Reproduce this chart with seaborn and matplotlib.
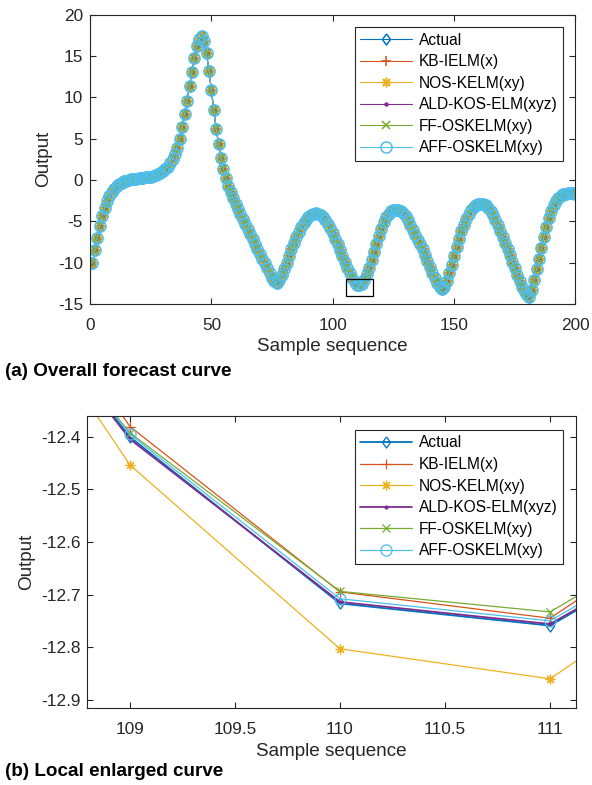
import matplotlib
matplotlib.use("Agg")
import matplotlib.pyplot as plt
from matplotlib.patches import Rectangle
import seaborn as sns

# ---------------------------------------------------------------- data
sample = list(range(1, 201))

actual = [
    -10.1, -8.5, -7.0, -5.6, -4.4, -3.4, -2.6, -1.95, -1.45, -1.05,
    -0.75, -0.5, -0.32, -0.18, -0.07, 0.02, 0.08, 0.13, 0.17, 0.2,
    0.23, 0.26, 0.3, 0.35, 0.41, 0.49, 0.59, 0.71, 0.86, 1.04,
    1.3, 1.6, 2.0, 2.5, 3.1, 3.9, 5.0, 6.4, 8.0, 9.6,
    11.3, 13.1, 14.8, 16.2, 17.1, 17.4, 16.8, 15.3, 13.2, 10.9,
    8.4, 6.2, 4.3, 2.7, 1.3, 0.2, -0.7, -1.5, -2.2, -2.9,
    -3.5, -4.1, -4.7, -5.3, -5.9, -6.5, -7.1, -7.7, -8.3, -8.9,
    -9.5, -10.1, -10.7, -11.3, -11.8, -12.2, -12.4, -12.1, -11.5, -10.8,
    -10.0, -9.2, -8.4, -7.6, -6.9, -6.3, -5.7, -5.2, -4.8, -4.5,
    -4.25, -4.1, -4.05, -4.1, -4.25, -4.5, -4.85, -5.3, -5.85, -6.45,
    -7.1, -7.8, -8.5, -9.2, -9.9, -10.6, -11.25, -11.89, -12.401, -12.717,
    -12.759, -12.53, -12.1, -11.4, -10.6, -9.7, -8.7, -7.7, -6.8, -5.9,
    -5.1, -4.5, -4.1, -3.8, -3.65, -3.6, -3.65, -3.8, -4.05, -4.4,
    -4.85, -5.4, -6.0, -6.6, -7.2, -7.8, -8.4, -9.1, -9.8, -10.5,
    -11.2, -11.8, -12.4, -12.9, -13.2, -12.9, -12.2, -11.3, -10.3, -9.2,
    -8.1, -7.1, -6.2, -5.4, -4.7, -4.1, -3.6, -3.25, -3.0, -2.88,
    -2.85, -2.9, -3.05, -3.35, -3.75, -4.25, -4.85, -5.5, -6.2, -6.9,
    -7.6, -8.35, -9.1, -9.9, -10.7, -11.5, -12.2, -12.9, -13.5, -13.95,
    -14.1, -13.3, -12.1, -10.8, -9.5, -8.2, -6.9, -5.7, -4.6, -3.7,
    -3.0, -2.5, -2.15, -1.9, -1.75, -1.65, -1.6, -1.58, -1.6, -1.65,
]

# Forecasts around the enlarged window (samples 108-112); elsewhere the
# forecasts coincide with the actual output at the scale of panel (a).
window_sample = [108, 109, 110, 111, 112]
kb_window = [-11.80, -12.381, -12.695, -12.745, -12.48]
nos_window = [-11.86, -12.454, -12.803, -12.860, -12.59]
ald_window = [-11.89, -12.405, -12.714, -12.756, -12.53]
ff_window = [-11.90, -12.393, -12.694, -12.733, -12.50]
aff_window = [-11.90, -12.396, -12.708, -12.750, -12.52]

names = ["Actual", "KB-IELM(x)", "NOS-KELM(xy)", "ALD-KOS-ELM(xyz)",
         "FF-OSKELM(xy)", "AFF-OSKELM(xy)"]


def full_forecast(window_values):
    out = list(actual)
    for s, v in zip(window_sample, window_values):
        out[s - 1] = v
    return out


i0 = window_sample[0] - 1
actual_window = actual[i0:i0 + len(window_sample)]
windows = [actual_window, kb_window, nos_window, ald_window, ff_window, aff_window]
full_series = [actual] + [full_forecast(w) for w in windows[1:]]

# ---------------------------------------------------------------- style
sns.set_style("ticks")
plt.rcParams["font.family"] = ["Liberation Sans", "DejaVu Sans"]
plt.rcParams["axes.unicode_minus"] = False

ink = "#262626"
colors = ["#0072BD", "#D95319", "#EDB120", "#7E2F8E", "#77AC30", "#4DBEEE"]
diamond = [(0, 1), (0.72, 0), (0, -1), (-0.72, 0), (0, 1)]
markers = [diamond, "+", (8, 2, 0), ".", "x", "o"]
msizes = [8.0, 7.4, 7.0, 4.2, 6.0, 8.0]
facecolors = ["none", colors[1], colors[2], colors[3], colors[4], "none"]

fig = plt.figure(figsize=(5.92, 7.85), dpi=100)
ax1 = fig.add_axes([0.1520, 0.6127, 0.8201, 0.3688])
ax2 = fig.add_axes([0.1475, 0.0977, 0.8255, 0.3724])


def draw(ax, xs, series_list, lw, mew):
    for k, ys in enumerate(series_list):
        sns.lineplot(x=xs, y=ys, ax=ax, color=colors[k], linewidth=lw[k],
                     marker=markers[k], markersize=msizes[k],
                     markerfacecolor=facecolors[k],
                     markeredgecolor=colors[k], markeredgewidth=mew,
                     label=names[k], errorbar=None, legend=False)


def style_axes(ax):
    for sp in ax.spines.values():
        sp.set_color(ink)
        sp.set_linewidth(0.8)
    ax.tick_params(direction="in", top=True, right=True, length=4,
                   width=0.8, colors=ink, labelsize=12.4)
    ax.tick_params(axis="x", pad=10)
    ax.tick_params(axis="y", pad=5)
    ax.set_xlabel("Sample sequence", fontsize=13.6, color=ink, labelpad=4)
    ax.set_ylabel("Output", fontsize=13.6, color=ink, labelpad=4)


def add_legend(ax, top_px):
    handles = ax.get_lines()[:6]
    leg = ax.legend(handles=handles, labels=names, loc="upper right",
                    bbox_to_anchor=(562.7 / 592, 1 - top_px / 785),
                    bbox_transform=fig.transFigure, borderaxespad=0,
                    fontsize=11.2, frameon=True, fancybox=False,
                    handlelength=3.3, handletextpad=0.45, labelspacing=0.42,
                    borderpad=0.35, edgecolor=ink, framealpha=1)
    leg.get_frame().set_linewidth(0.8)
    for t in leg.get_texts():
        t.set_color("#000000")


# ---------------------------------------------------------------- panel (a)
draw(ax1, sample, full_series, [0.8] * 6, 1.1)
ax1.add_patch(Rectangle((105.5, -14), 11.0, 2.0, fill=False,
                        edgecolor="black", linewidth=0.9, zorder=5))
ax1.set_xlim(0, 200)
ax1.set_ylim(-15, 20)
ax1.set_xticks([0, 50, 100, 150, 200])
ax1.set_yticks([-15, -10, -5, 0, 5, 10, 15, 20])
style_axes(ax1)
add_legend(ax1, 27.3)

# ---------------------------------------------------------------- panel (b)
draw(ax2, window_sample, windows, [1.3, 0.9, 0.9, 1.3, 0.9, 0.9], 0.9)
ax2.set_xlim(108.797, 111.124)
ax2.set_ylim(-12.916, -12.361)
ax2.set_xticks([109, 109.5, 110, 110.5, 111])
ax2.set_xticklabels(["109", "109.5", "110", "110.5", "111"])
ax2.set_yticks([-12.9, -12.8, -12.7, -12.6, -12.5, -12.4])
ax2.set_yticklabels(["-12.9", "-12.8", "-12.7", "-12.6", "-12.5", "-12.4"])
style_axes(ax2)
add_legend(ax2, 430.0)

fig.text(0.008, 1 - 371 / 785, "(a) Overall forecast curve", fontsize=13.6,
         fontweight="bold", color="black", va="center", ha="left")
fig.text(0.008, 1 - 772 / 785, "(b) Local enlarged curve", fontsize=13.6,
         fontweight="bold", color="black", va="center", ha="left")

fig.savefig("out.png", dpi=100, facecolor="white")
